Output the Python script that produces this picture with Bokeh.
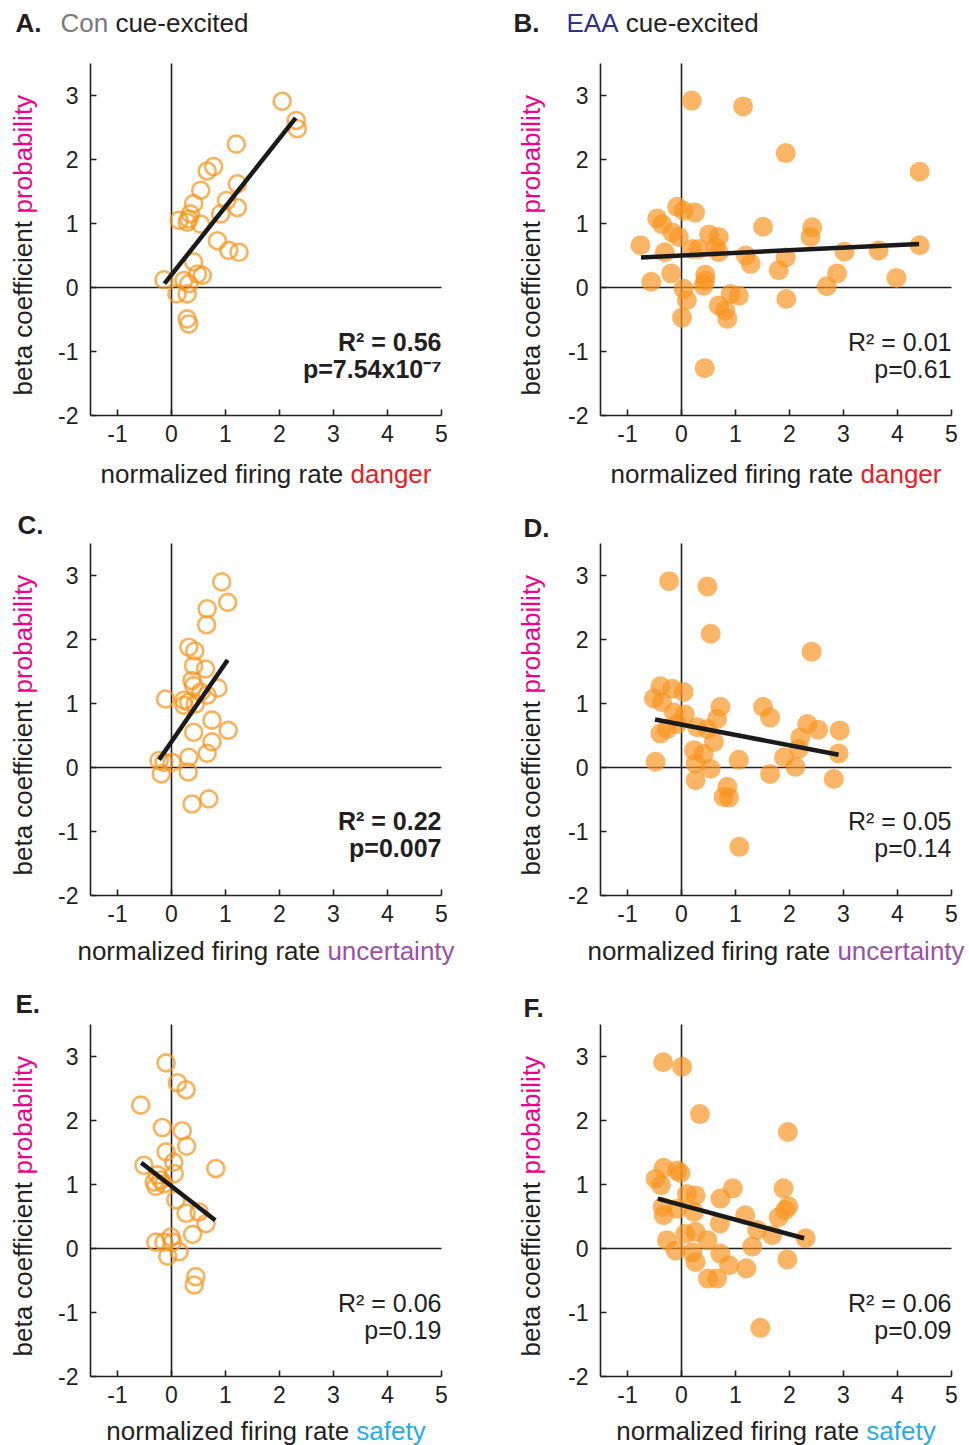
import math
from bokeh.plotting import figure
from bokeh.models import Range1d, Label, FixedTicker
from bokeh.layouts import row, column
from bokeh.embed import file_html
from bokeh.resources import INLINE

# ---------------- data ----------------
x_ticks = [-1, 0, 1, 2, 3, 4, 5]
y_ticks = [-2, -1, 0, 1, 2, 3]
x_bounds = (-1.5, 5)
y_bounds = (-2, 3.5)

a_x = [2.05, 2.31, 2.33, 1.20, 0.78, 0.66, 0.54, 1.22, 0.41, 1.02, 1.22, 0.91, 0.35, 0.32, 0.14,
       0.29, 0.54, 0.85, 1.06, 1.25, 0.41, 0.57, 0.48, -0.14, 0.23, 0.32, 0.10, 0.29, 0.29, 0.32]
a_y = [2.91, 2.61, 2.48, 2.24, 1.89, 1.82, 1.52, 1.62, 1.31, 1.36, 1.25, 1.15, 1.15, 1.07, 1.05,
       1.02, 0.99, 0.73, 0.58, 0.55, 0.40, 0.19, 0.21, 0.12, 0.11, 0.06, -0.10, -0.10, -0.49, -0.57]
a_fit_x = [-0.13, 2.30]
a_fit_y = [0.06, 2.65]

b_x = [0.19, 1.14, 1.93, 4.41, -0.08, 0.04, 0.25, -0.45, -0.36, -0.17, -0.05, 0.51, 0.69, 1.51,
       2.42, 2.39, -0.76, -0.31, 0.20, 0.32, 0.63, 0.69, 1.19, 1.28, 1.93, 1.80, 3.02, 3.65, 4.41,
       2.88, 2.69, 3.98, -0.56, -0.19, 0.44, 0.44, 0.41, 0.04, 0.10, 0.01, 0.69, 0.91, 1.06, 0.81,
       0.85, 1.94, 0.43]
b_y = [2.92, 2.83, 2.10, 1.81, 1.26, 1.20, 1.17, 1.08, 0.99, 0.86, 0.79, 0.83, 0.79, 0.95,
       0.94, 0.79, 0.66, 0.55, 0.60, 0.60, 0.63, 0.55, 0.50, 0.37, 0.47, 0.27, 0.56, 0.58, 0.66,
       0.22, 0.02, 0.15, 0.09, 0.22, 0.20, 0.11, 0.03, -0.02, -0.20, -0.47, -0.28, -0.10, -0.13, -0.36,
       -0.49, -0.18, -1.26]
b_fit_x = [-0.75, 4.40]
b_fit_y = [0.47, 0.68]

c_x = [0.93, 1.04, 0.66, 0.65, 0.32, 0.43, 0.41, 0.63, 0.38, 0.41, 0.86, 0.66, 0.54, -0.11, 0.23,
       0.32, 0.23, 0.44, 0.75, 0.41, 1.05, 0.75, 0.66, 0.32, -0.23, -0.14, 0.01, -0.19, 0.31, 0.38, 0.69]
c_y = [2.90, 2.58, 2.48, 2.23, 1.88, 1.82, 1.59, 1.54, 1.36, 1.28, 1.24, 1.13, 1.18, 1.07, 1.05,
       1.02, 0.97, 0.99, 0.74, 0.55, 0.58, 0.40, 0.22, 0.16, 0.11, 0.08, 0.08, -0.10, -0.07, -0.57, -0.49]
c_fit_x = [-0.23, 1.04]
c_fit_y = [0.12, 1.68]

d_x = [-0.23, 0.48, 0.54, 2.41, -0.39, -0.17, 0.04, -0.51, -0.36, 0.72, 1.51, -0.14, 0.06, 0.66,
       1.64, -0.08, 0.29, 0.48, 2.33, 2.53, 2.93, -0.39, -0.27, 0.60, 2.20, 0.23, 0.41, 2.17, 1.90,
       2.91, -0.48, 1.06, 0.26, 0.54, 2.11, 0.26, 1.64, 2.82, 0.85, 0.78, 0.88, 1.07]
d_y = [2.91, 2.83, 2.09, 1.81, 1.27, 1.23, 1.18, 1.08, 1.02, 0.95, 0.95, 0.86, 0.83, 0.76,
       0.78, 0.68, 0.63, 0.60, 0.68, 0.59, 0.58, 0.53, 0.60, 0.40, 0.47, 0.27, 0.21, 0.29, 0.16,
       0.22, 0.09, 0.12, 0.06, -0.02, 0.01, -0.20, -0.10, -0.18, -0.30, -0.46, -0.47, -1.24]
d_fit_x = [-0.49, 2.91]
d_fit_y = [0.75, 0.20]

e_x = [-0.10, 0.11, 0.27, -0.57, -0.17, 0.20, 0.28, -0.10, 0.04, -0.51, 0.82, 0.05, -0.26, -0.20,
       -0.32, -0.29, -0.14, 0.08, 0.27, 0.51, 0.64, 0.39, -0.01, -0.29, -0.14, 0.02, 0.14, -0.07, 0.45, 0.42]
e_y = [2.90, 2.59, 2.48, 2.24, 1.89, 1.84, 1.60, 1.51, 1.35, 1.30, 1.25, 1.17, 1.15, 1.07,
       1.04, 0.97, 1.01, 0.76, 0.55, 0.57, 0.39, 0.22, 0.18, 0.10, 0.10, 0.10, -0.05, -0.12, -0.44, -0.57]
e_fit_x = [-0.56, 0.81]
e_fit_y = [1.34, 0.44]

f_x = [-0.34, 0.01, 0.34, 1.97, -0.33, -0.08, -0.02, -0.48, -0.38, 0.95, 1.89, 0.10, 0.26, 0.72,
       1.98, 1.92, -0.35, -0.08, 0.23, -0.33, 1.18, 1.80, 0.71, 1.40, 1.68, 2.30, 0.07, 0.26, 0.48,
       -0.27, -0.11, 0.20, 1.31, 0.26, 0.72, 0.88, 1.20, 1.96, 0.49, 0.66, 1.46]
f_y = [2.91, 2.84, 2.10, 1.82, 1.26, 1.22, 1.18, 1.09, 0.99, 0.94, 0.94, 0.85, 0.83, 0.78,
       0.66, 0.60, 0.65, 0.62, 0.57, 0.52, 0.52, 0.49, 0.39, 0.29, 0.21, 0.16, 0.23, 0.26, 0.13,
       0.13, -0.03, -0.06, 0.03, -0.21, -0.08, -0.26, -0.31, -0.17, -0.47, -0.47, -1.24]
f_fit_x = [-0.44, 2.27]
f_fit_y = [0.78, 0.16]

group_names = ["Con", "EAA"]
title_rest = "cue-excited"
y_label_parts = ["beta coefficient ", "probability"]
x_label_prefix = "normalized firing rate "
x_label_words = ["danger", "uncertainty", "safety"]
stats_a = ["R\u00b2 = 0.56", "p=7.54x10\u207b\u2077"]
stats_b = ["R\u00b2 = 0.01", "p=0.61"]
stats_c = ["R\u00b2 = 0.22", "p=0.007"]
stats_d = ["R\u00b2 = 0.05", "p=0.14"]
stats_e = ["R\u00b2 = 0.06", "p=0.19"]
stats_f = ["R\u00b2 = 0.06", "p=0.09"]

# ---------------- style / layout ----------------
FONT = "Liberation Sans"
INK = "#231F20"
ORANGE = "#F7941D"
GRAY = "#7a7a7a"
NAVY = "#2E3192"
MAGENTA = "#EC008C"
WORD_COLORS = {"danger": "#ED1C24", "uncertainty": "#9B4FA8", "safety": "#29ABE2"}
LBL = 26
XPX = 54.0   # px per x unit
YPX = 64.0   # px per y unit

ARIAL = {' ': 278, 'a': 556, 'b': 556, 'c': 500, 'd': 556, 'e': 556, 'f': 278, 'g': 556, 'i': 222,
         'l': 222, 'm': 833, 'n': 556, 'o': 556, 'p': 556, 'r': 333, 's': 500, 't': 278, 'u': 556,
         'y': 500, 'z': 500, 'x': 500, '-': 333, 'C': 722, 'E': 667, 'A': 667, 'k': 500}


def tw(s, size=LBL):
    return sum(ARIAL.get(ch, 556) for ch in s) * size / 1000.0


def lab(p, x, y, text, color=INK, size=LBL, align="left", baseline="middle", bold=False, angle=0):
    p.add_layout(Label(x=x, y=y, text=text, text_color=color, text_font=FONT,
                       text_font_size=f"{size}px", text_align=align, text_baseline=baseline,
                       text_font_style="bold" if bold else "normal", angle=angle))


def panel(fig_box, origin, xs, ys, fx, fy, filled, letter, letter_pos, title, ylab_x, ylab_y0,
          word, xlab_y, stats, stats_y, bold):
    fl, ft, W, H = fig_box          # figure box on the page (px)
    ox, oy = origin                 # page px of data (0, 0)
    X = lambda px: (px - ox) / XPX
    Y = lambda py: (oy - py) / YPX
    p = figure(width=W, height=H, x_range=Range1d(X(fl), X(fl + W)), y_range=Range1d(Y(ft + H), Y(ft)),
               output_backend="svg", toolbar_location=None,
               min_border=0, min_border_left=0, min_border_right=0, min_border_top=0, min_border_bottom=0)
    p.outline_line_color = None
    p.xgrid.visible = False
    p.ygrid.visible = False
    p.background_fill_color = "white"
    p.border_fill_color = "white"
    p.xaxis.fixed_location = y_bounds[0]
    p.yaxis.fixed_location = x_bounds[0]
    p.xaxis.bounds = x_bounds
    p.yaxis.bounds = y_bounds
    for ax, ticks in ((p.xaxis, x_ticks), (p.yaxis, y_ticks)):
        ax.ticker = FixedTicker(ticks=ticks)
        ax.major_label_overrides = {t: str(t) for t in ticks}
        ax.axis_line_width = 1.6
        ax.axis_line_color = INK
        ax.major_tick_line_width = 1.6
        ax.major_tick_line_color = INK
        ax.major_tick_in = 6
        ax.major_tick_out = 0
        ax.minor_tick_line_color = None
        ax.major_label_text_font = FONT
        ax.major_label_text_font_size = "23px"
        ax.major_label_text_color = INK
    p.xaxis.major_label_standoff = 9
    p.yaxis.major_label_standoff = 12

    # zero reference lines
    p.segment(x0=[x_bounds[0], 0], y0=[0, y_bounds[0]], x1=[x_bounds[1], 0], y1=[0, y_bounds[1]],
              line_color=INK, line_width=1.6)

    if filled:
        p.scatter(xs, ys, size=20, fill_color=ORANGE, fill_alpha=0.68, line_color=None)
    else:
        p.scatter(xs, ys, size=17, fill_color=None, line_color=ORANGE, line_width=2.6, line_alpha=0.72)
    p.line(fx, fy, line_color="#1a1a1a", line_width=4.5)

    # panel letter and title
    lab(p, X(letter_pos[0]), Y(letter_pos[1]), letter, size=26, bold=True)
    if title is not None:
        gname, gcol, tx = title
        lab(p, X(tx), Y(letter_pos[1]), gname, color=gcol)
        lab(p, X(tx + tw(gname + " ")), Y(letter_pos[1]), title_rest)

    # y label (rotated, two colours)
    lab(p, X(ylab_x), Y(ylab_y0), y_label_parts[0], angle=math.pi / 2)
    lab(p, X(ylab_x), Y(ylab_y0 - tw(y_label_parts[0])), y_label_parts[1], color=MAGENTA,
        angle=math.pi / 2)

    # x label (two colours, centred on the axis)
    cx = ox + (x_bounds[0] + x_bounds[1]) / 2 * XPX
    total = tw(x_label_prefix) + tw(word)
    x0 = cx - total / 2
    lab(p, X(x0), Y(xlab_y), x_label_prefix)
    lab(p, X(x0 + tw(x_label_prefix)), Y(xlab_y), word, color=WORD_COLORS[word])

    # statistics
    rx = ox + x_bounds[1] * XPX
    lab(p, X(rx), Y(stats_y), stats[0], size=25, align="right", bold=bold)
    lab(p, X(rx), Y(stats_y + 27), stats[1], size=25, align="right", bold=bold)
    return p


pa = panel((0, 0, 490, 500), (171, 287), a_x, a_y, a_fit_x, a_fit_y, False, "A.", (15, 22),
           (group_names[0], GRAY, 60), 22, 395, x_label_words[0], 473, stats_a, 341, True)
pb = panel((490, 0, 479, 500), (681, 287), b_x, b_y, b_fit_x, b_fit_y, True, "B.", (513, 22),
           (group_names[1], NAVY, 566), 530, 395, x_label_words[0], 473, stats_b, 341, False)
pc = panel((0, 500, 490, 480), (171, 767), c_x, c_y, c_fit_x, c_fit_y, False, "C.", (17, 524),
           None, 22, 875, x_label_words[1], 950, stats_c, 820, True)
pd = panel((490, 500, 479, 480), (681, 767), d_x, d_y, d_fit_x, d_fit_y, True, "D.", (523, 527),
           None, 530, 875, x_label_words[1], 950, stats_d, 820, False)
pe = panel((0, 980, 490, 465), (171, 1248), e_x, e_y, e_fit_x, e_fit_y, False, "E.", (15, 1003),
           None, 22, 1356, x_label_words[2], 1430, stats_e, 1302, False)
pf = panel((490, 980, 479, 465), (681, 1248), f_x, f_y, f_fit_x, f_fit_y, True, "F.", (523, 1007),
           None, 530, 1356, x_label_words[2], 1430, stats_f, 1302, False)

layout = column(row(pa, pb, spacing=0), row(pc, pd, spacing=0), row(pe, pf, spacing=0), spacing=0)

open("out.html", "w").write(file_html(layout, INLINE))
